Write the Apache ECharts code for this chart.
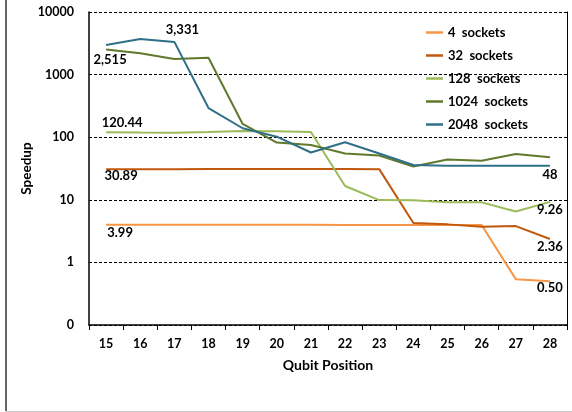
<!DOCTYPE html>
<html>
<head>
<meta charset="utf-8">
<script src="https://cdn.jsdelivr.net/npm/echarts@6/dist/echarts.min.js"></script>
<style>
  html, body { margin: 0; padding: 0; background: #fff; }
  #chart { width: 572px; height: 412px; }
</style>
</head>
<body>
<div id="chart"></div>
<script>
// qubit positions on the x axis
var positions = ['15', '16', '17', '18', '19', '20', '21', '22', '23', '24', '25', '26', '27', '28'];
var seriesNames = ['4  sockets', '32  sockets', '128  sockets', '1024  sockets', '2048  sockets'];

// speedup (log scale)
var sockets4    = [3.99, 3.99, 3.99, 4.0, 3.98, 3.98, 3.98, 3.97, 3.97, 3.97, 3.96, 3.95, 0.54, 0.50];
var sockets32   = [30.89, 30.9, 30.9, 31.1, 31.1, 31.0, 31.0, 31.0, 30.9, 4.25, 4.05, 3.7, 3.8, 2.36];
var sockets128  = [120.44, 119, 118, 121, 126, 124, 121, 16.6, 9.9, 9.8, 9.1, 9.1, 6.5, 9.26];
var sockets1024 = [2515, 2190, 1780, 1860, 163, 82, 75, 55, 51, 34, 44, 42, 54, 48];
var sockets2048 = [2970, 3700, 3331, 292, 139, 102, 57, 83, 55, 36, 35, 35, 35, 35];

var colors = ['#F79646', '#C0580E', '#9BBB59', '#5F7A2C', '#2F6F88'];
var FONT = 'Lato';

// which points carry a value label: [series, index, position, distance, dx]
var labelled = [
    [0, 0, 'bottom', 2, 14],
    [0, 13, 'bottom', 0, 0],
    [1, 0, 'bottom', 0, 15],
    [1, 13, 'bottom', 1, 0],
    [2, 0, 'top', 3, 16],
    [2, 13, 'bottom', 1, 0],
    [3, 0, 'bottom', 4, 4],
    [3, 13, 'bottom', 11, 0],
    [4, 2, 'top', 6, 8]
];

function fmt(v) {
    if (v >= 1000) return v.toLocaleString('en-US');
    if (Number.isInteger(v)) return String(v);
    return v.toFixed(2);
}

var allData = [sockets4, sockets32, sockets128, sockets1024, sockets2048];

var series = allData.map(function (arr, si) {
    return {
        name: seriesNames[si],
        type: 'line',
        symbol: 'circle',
        symbolSize: 0,
        showSymbol: true,
        lineStyle: { width: 2, color: colors[si] },
        itemStyle: { color: colors[si] },
        label: { show: false },
        data: arr.map(function (v, i) {
            var spec = labelled.filter(function (l) { return l[0] === si && l[1] === i; })[0];
            if (!spec) return v;
            return {
                value: v,
                label: {
                    show: true,
                    position: spec[2],
                    distance: spec[3],
                    offset: [spec[4], 0],
                    formatter: function (p) { return fmt(p.value); },
                    color: '#000',
                    fontFamily: FONT,
                    fontWeight: 'bold',
                    fontSize: 13
                }
            };
        })
    };
});

var chart = echarts.init(document.getElementById('chart'));

var option = {
    animation: false,
    backgroundColor: '#fff',
    grid: { left: 89, right: 5, top: 12, bottom: 87 },
    legend: {
        orient: 'vertical',
        left: 426,
        top: 21,
        padding: 0,
        itemGap: 0,
        icon: 'rect',
        itemWidth: 17,
        itemHeight: 2.5,
        data: seriesNames,
        textStyle: { fontFamily: FONT, fontWeight: 'bold', fontSize: 13, color: '#000', lineHeight: 23 }
    },
    xAxis: {
        type: 'category',
        data: positions,
        boundaryGap: true,
        name: 'Qubit Position',
        nameLocation: 'middle',
        nameGap: 33,
        nameMoveOverlap: false,
        nameTextStyle: { fontFamily: FONT, fontWeight: 'bold', fontSize: 14, color: '#000' },
        axisLine: { lineStyle: { color: '#000', width: 1.5 } },
        axisTick: { show: true, length: 5, lineStyle: { color: '#000' } },
        axisLabel: { margin: 12, fontFamily: FONT, fontWeight: 'bold', fontSize: 12.5, color: '#000' },
        splitLine: { show: false }
    },
    yAxis: [{
        type: 'log',
        logBase: 10,
        min: 0.1,
        max: 10000,
        name: 'Speedup',
        nameLocation: 'middle',
        nameGap: 55,
        nameMoveOverlap: false,
        nameTextStyle: { fontFamily: FONT, fontWeight: 'bold', fontSize: 13.5, color: '#000' },
        axisLine: { show: true, lineStyle: { color: '#000', width: 1.5 } },
        axisTick: { show: false },
        axisLabel: {
            margin: 15,
            fontFamily: FONT, fontWeight: 'bold', fontSize: 12.5, color: '#000',
            formatter: function (v) { return v < 1 ? '0' : String(Math.round(v)); }
        },
        splitLine: { show: true, lineStyle: { color: '#000', width: 1, type: [3, 2] } }
    }, {
        type: 'value',
        position: 'right',
        min: 0,
        max: 1,
        axisLine: { show: true, lineStyle: { color: '#000', width: 1 } },
        axisTick: { show: false },
        axisLabel: { show: false },
        splitLine: { show: false }
    }],
    series: series,
    graphic: [
        { type: 'line', shape: { x1: 6, y1: 0, x2: 6, y2: 411 }, style: { stroke: '#333', lineWidth: 1.5 } },
        { type: 'line', shape: { x1: 6, y1: 411.5, x2: 572, y2: 411.5 }, style: { stroke: '#ccc', lineWidth: 1 } }
    ]
};

chart.setOption(option);
</script>
</body>
</html>
